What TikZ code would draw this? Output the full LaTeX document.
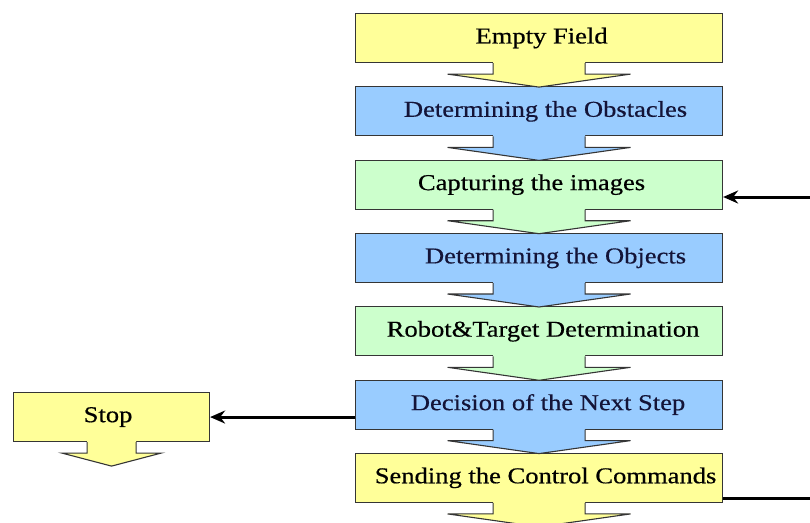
\documentclass[tikz,border=0pt]{standalone}
\usepackage{fontspec}
\setmainfont{Liberation Serif}[FakeStretch=1.17,FakeBold=0.5]
\usetikzlibrary{arrows.meta}
\definecolor{boxyellow}{HTML}{FFFF99}
\definecolor{boxblue}{HTML}{99CCFF}
\definecolor{boxgreen}{HTML}{CCFFCC}
\definecolor{edgegray}{HTML}{353535}
\definecolor{navytext}{HTML}{141438}
\newcommand\blockarrow[4]{%
  \begin{scope}[shift={(#1.south)}]
    \fill[#2] (-#3,-1.2) -- (-#3,11) -- (-#4,11) -- (0,24) -- (#4,11) -- (#3,11) -- (#3,-1.2) -- cycle;
    \draw[edgegray, line width=1.1pt, line join=miter] (-#3,0) -- (-#3,11) -- (-#4,11) -- (0,24) -- (#4,11) -- (#3,11) -- (#3,0);
  \end{scope}}
\begin{document}
\begin{tikzpicture}[x=1pt,y=-1pt,
  stepbox/.style={draw=edgegray, line width=1.1pt, minimum width=367pt, minimum height=49pt,
    inner sep=0pt, anchor=north west, font=\fontsize{22.7}{27}\selectfont},
  stopbox/.style={stepbox, minimum width=196pt},
  ybox/.style={fill=boxyellow, text=black},
  bbox/.style={fill=boxblue, text=navytext},
  gbox/.style={fill=boxgreen, text=black},
  link/.style={line width=3pt, draw=black},
  linkarrow/.style={link, -{Stealth[length=15pt,width=13pt]}}
]
\useasboundingbox (0,0) rectangle (810,522);
\clip (0,0) rectangle (810,522);
\fill[white] (0,0) rectangle (810,522);

\node[stepbox, ybox] (empty)  at (355,13)    {\hspace*{5pt}Empty Field};
\node[stepbox, bbox] (obst)   at (355,86.3)  {\hspace*{13pt}Determining the Obstacles};
\node[stepbox, gbox] (cap)    at (355,159.6) {\hspace*{-15pt}Capturing the images};
\node[stepbox, bbox] (objs)   at (355,232.9) {\hspace*{33pt}Determining the Objects};
\node[stepbox, gbox] (robot)  at (355,306.2) {\hspace*{8pt}Robot\&Target Determination};
\node[stepbox, bbox] (decide) at (355,379.5) {\hspace*{18pt}Decision of the Next Step};
\node[stepbox, ybox] (send)   at (355,452.8) {\hspace*{13pt}Sending the Control Commands};
\node[stopbox, ybox] (stop)   at (13,392)    {\hspace*{-7pt}Stop};

\blockarrow{empty}{boxyellow}{46}{91.5}
\blockarrow{obst}{boxblue}{46}{91.5}
\blockarrow{cap}{boxgreen}{46}{91.5}
\blockarrow{objs}{boxblue}{46}{91.5}
\blockarrow{robot}{boxgreen}{46}{91.5}
\blockarrow{decide}{boxblue}{46}{91.5}
\blockarrow{send}{boxyellow}{46}{91.5}
\blockarrow{stop}{boxyellow}{24.5}{49.5}

\coordinate (capin) at (812,197);
\coordinate (sendout) at (812,498);
\draw[linkarrow] (capin) -- (capin -| cap.east);
\draw[linkarrow] (decide.west |- stop.east) -- (stop.east);
\draw[link] (sendout -| send.east) -- (sendout);
\end{tikzpicture}
\end{document}
